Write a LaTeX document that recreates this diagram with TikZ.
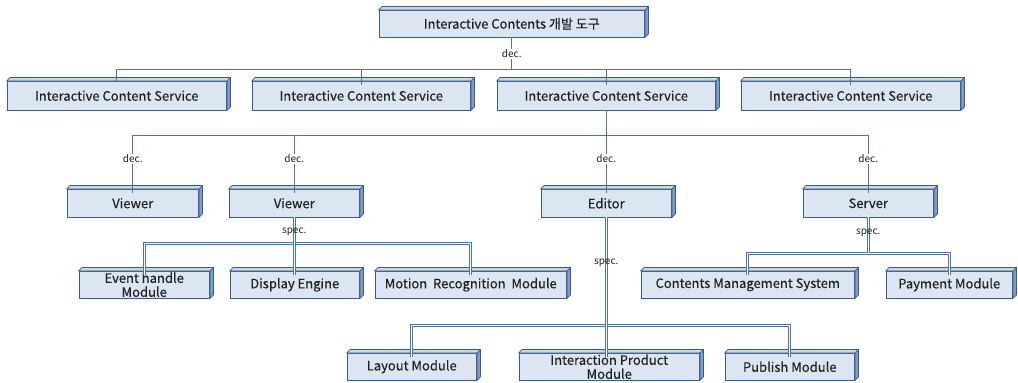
\documentclass[tikz,border=0pt]{standalone}
\usepackage{fontspec}
\usetikzlibrary{calc}
\setmainfont{Noto Sans CJK KR}
\newfontfamily\boxfont{Noto Sans CJK KR}[FakeBold=0.3]
\begin{document}
\definecolor{boxfill}{HTML}{DCE6F2}
\definecolor{boxtop}{HTML}{C9D7EA}
\definecolor{boxside}{HTML}{7F9CC4}
\definecolor{boxline}{HTML}{3A5A88}
\definecolor{conn}{HTML}{4F73A8}
\definecolor{txt}{HTML}{222222}
\begin{tikzpicture}[x=1pt,y=-1pt,
  cube/.style={draw=boxline, fill=boxfill, line width=0.9pt, inner sep=0pt,
    text=txt, font=\boxfont\fontsize{13}{14}\selectfont, align=center},
  decline/.style={draw=conn, line width=0.9pt},
  specline/.style={draw=conn, line width=1pt, double=white, double distance=1.4pt},
  lbl/.style={font=\fontsize{10}{11}\selectfont, text=txt, inner sep=1pt},
  declbl/.style={lbl, fill=white},
  face/.style={fill=boxtop, draw=boxline, line width=0.7pt, line join=round},
  sideface/.style={fill=boxside, draw=boxline, line width=0.7pt, line join=round}]
\useasboundingbox (0,0) rectangle (1018,383);
\fill[white] (0,0) rectangle (1018,383);
\newcommand{\cbox}[6]{%
  \pgfmathsetmacro{\cx}{(#2+#4-3.5)/2}%
  \pgfmathsetmacro{\cy}{(#3+3.5+#5)/2}%
  \pgfmathsetmacro{\cw}{#4-#2-3.5}%
  \pgfmathsetmacro{\ch}{#5-#3-3.5}%
  \node[cube, minimum width=\cw pt, minimum height=\ch pt] (#1) at (\cx,\cy) {#6};
  \path[face] (#1.north west) -- ++(3.5,-3.5) -- ([shift={(3.5,-3.5)}]#1.north east) -- (#1.north east) -- cycle;
  \path[sideface] (#1.north east) -- ++(3.5,-3.5) -- ([shift={(3.5,-3.5)}]#1.south east) -- (#1.south east) -- cycle;
}
\coordinate (h1) at (0,69);
\coordinate (h2) at (0,135);
\coordinate (h3) at (0,243.3);
\coordinate (h4) at (0,325.3);
\coordinate (h5) at (0,253.3);
% boxes
\cbox{top}{379}{7}{648}{37}{Interactive Contents 개발 도구}
\cbox{S1}{7}{78}{230}{110}{Interactive Content Service}
\cbox{S2}{252}{78}{474}{110}{Interactive Content Service}
\cbox{S3}{497}{78}{719}{110}{Interactive Content Service}
\cbox{S4}{741}{78}{964}{110}{Interactive Content Service}
\cbox{V1}{67}{186}{202}{217}{Viewer}
\cbox{V2}{229}{186}{363}{217}{Viewer}
\cbox{Ed}{541}{186}{675}{217}{Editor}
\cbox{Sv}{803}{186}{937}{217}{Server}
\cbox{Ev}{79}{268}{213}{298}{\rule{0pt}{10pt}Event handle\\Module}
\cbox{DE}{230}{268}{363}{298}{Display Engine}
\cbox{MR}{375}{268}{570}{298}{Motion~~Recognition~~Module}
\cbox{CMS}{641}{268}{858}{298}{Contents Management System}
\cbox{PM}{886}{268}{1016}{298}{Payment Module}
\cbox{LM}{347}{350}{480}{380}{Layout Module}
\cbox{IP}{519}{350}{703}{380}{\rule{0pt}{10pt}Interaction Product\\Module}
\cbox{PB}{725}{350}{858}{380}{Publish Module}
% level 1
\draw[decline] (top.south) -- (top.south |- h1);
\draw[decline] (S1.north) -- (S1.north |- h1) -- (S4.north |- h1) -- ([yshift=-3.5]S4.north);
\draw[decline] (S2.north |- h1) -- ([yshift=-3.5]S2.north);
\draw[decline] (S3.north |- h1) -- ([yshift=-3.5]S3.north);
\node[declbl] (d0) at (top.south |- 0,54) {dec.};
% level 2
\draw[decline] (S3.south) -- (S3.south |- h2);
\draw[decline] ([yshift=-3.5]V1.north) -- (V1.north |- h2) -- (Sv.north |- h2) -- ([yshift=-3.5]Sv.north);
\draw[decline] (V2.north |- h2) -- ([yshift=-3.5]V2.north);
\draw[decline] (Ed.north |- h2) -- ([yshift=-3.5]Ed.north);
\node[declbl] (d1) at (V1.north |- 0,159) {dec.};
\node[declbl] (d2) at (V2.north |- 0,159) {dec.};
\node[declbl] (d3) at (Ed.north |- 0,159) {dec.};
\node[declbl] (d4) at (Sv.north |- 0,159) {dec.};
% viewer spec
\draw[specline] ([yshift=-3.5]Ev.north) -- (Ev.north |- h3) -- (MR.north |- h3) -- ([yshift=-3.5]MR.north);
\draw[specline] (V2.south) -- (V2.south |- h3);
\draw[specline] (DE.north |- h3) -- ([yshift=-3.5]DE.north);
\node[lbl] (s1) at (V2.south |- 0,232) {spec.};
% server spec
\draw[specline] ([yshift=-3.5]CMS.north) -- (CMS.north |- h5) -- (PM.north |- h5) -- ([yshift=-3.5]PM.north);
\draw[specline] (Sv.south) -- (Sv.south |- h5);
\node[lbl] (s2) at (Sv.south |- 0,233) {spec.};
% editor spec
\draw[specline] ([yshift=-3.5]LM.north) -- (LM.north |- h4) -- (PB.north |- h4) -- ([yshift=-3.5]PB.north);
\draw[specline] (Ed.south) -- ([yshift=-3.5]Ed.south |- IP.north);
\node[lbl] (s3) at (Ed.south |- 0,263) {spec.};
\end{tikzpicture}
\end{document}
